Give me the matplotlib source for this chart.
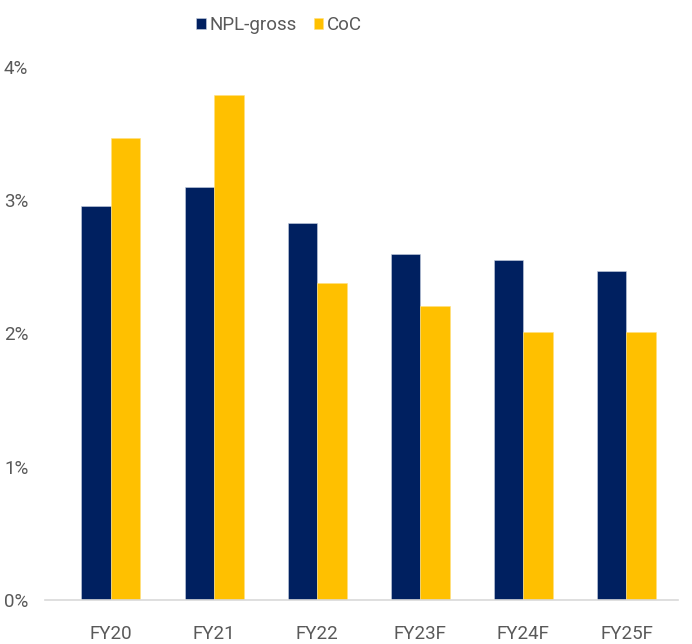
import matplotlib
matplotlib.use("Agg")
import matplotlib.pyplot as plt
import numpy as np

categories = ["FY20", "FY21", "FY22", "FY23F", "FY24F", "FY25F"]
npl_gross = [2.96, 3.10, 2.83, 2.60, 2.55, 2.47]
coc = [3.47, 3.79, 2.38, 2.21, 2.01, 2.01]
yticks = [0, 1, 2, 3, 4]
ytick_labels = ["0%", "1%", "2%", "3%", "4%"]

plt.rcParams['font.family'] = ['Roboto', 'DejaVu Sans']
text_color = "#595959"

fig = plt.figure(figsize=(6.92, 6.44), dpi=100)
ax = fig.add_axes([45/692, 44/644, 633/692, 533/644])

x = np.arange(len(categories))
w = 0.286
ax.bar(x - w/2, npl_gross, width=w, color="#002060", edgecolor="#c8d0e0", linewidth=0.4, label="NPL-gross")
ax.bar(x + w/2, coc, width=w, color="#FFC000", edgecolor="#ffe080", linewidth=0.4, label="CoC")

ax.set_xlim(-0.64, len(categories) - 0.5)
ax.set_ylim(0, 4)
ax.set_yticks(yticks)
ax.set_yticklabels(ytick_labels)
ax.set_xticks(x)
ax.set_xticklabels(categories)

for s in ["top", "right", "left"]:
    ax.spines[s].set_visible(False)
ax.spines["bottom"].set_color("#d9d9d9")
ax.spines["bottom"].set_linewidth(1.2)
ax.tick_params(axis="both", length=0, colors=text_color, labelsize=13.5)
ax.tick_params(axis="y", pad=12)
ax.tick_params(axis="x", pad=18)

leg = fig.legend(loc="center", bbox_to_anchor=(279/692, 1 - 25/644), ncol=2, frameon=False,
                 fontsize=13.5, handlelength=0.5, handleheight=0.5, handletextpad=0.2,
                 columnspacing=0.9, labelcolor=text_color)

fig.savefig("out.png", dpi=100)
